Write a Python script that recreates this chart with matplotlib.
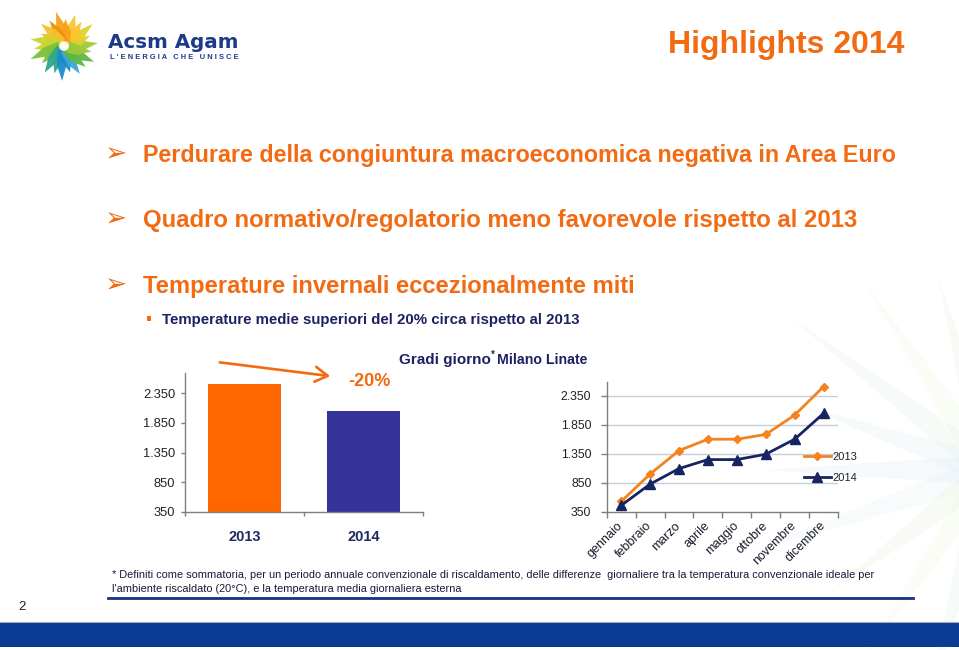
import matplotlib
matplotlib.use('Agg')
import matplotlib.pyplot as plt
import numpy as np
from matplotlib.patches import Polygon, Rectangle, FancyArrowPatch, Circle
from matplotlib.lines import Line2D
from matplotlib import font_manager

# ---------------- data ----------------
bar_years = ['2013', '2014']
bar_values = [2510, 2045]
months = ['gennaio', 'febbraio', 'marzo', 'aprile', 'maggio', 'ottobre', 'novembre', 'dicembre']
gg_2013 = [523, 997, 1403, 1599, 1599, 1681, 2016, 2507]
gg_2014 = [454, 823, 1091, 1247, 1247, 1339, 1599, 2045]
y_ticks = [350, 850, 1350, 1850, 2350]
y_tick_labels = ['350', '850', '1.350', '1.850', '2.350']
series_labels = ['2013', '2014']

title = 'Highlights 2014'
bullets = ['Perdurare della congiuntura macroeconomica negativa in Area Euro',
           'Quadro normativo/regolatorio meno favorevole rispetto al 2013',
           'Temperature invernali eccezionalmente miti']
sub_bullet = 'Temperature medie superiori del 20% circa rispetto al 2013'
footnote1 = ('* Definiti come sommatoria, per un periodo annuale convenzionale di riscaldamento, '
             'delle differenze  giornaliere tra la temperatura convenzionale ideale per')
footnote2 = "l'ambiente riscaldato (20°C), e la temperatura media giornaliera esterna"

ORANGE = '#F26B12'
NAVY = '#1D2162'

W, H = 959, 650
fig = plt.figure(figsize=(W / 100, H / 100), dpi=100)
fig.patch.set_facecolor('white')
bg = fig.add_axes([0, 0, 1, 1])
bg.set_xlim(0, W)
bg.set_ylim(H, 0)
bg.axis('off')
renderer = fig.canvas.get_renderer()


def has_font(name):
    try:
        font_manager.findfont(font_manager.FontProperties(family=name), fallback_to_default=False)
        return True
    except Exception:
        return False


NARROW = 'Liberation Sans Narrow' if has_font('Liberation Sans Narrow') else 'Liberation Sans'


def fit_text(x0, x1, yb, s, color, weight='bold', family='Liberation Sans', size0=12, **kw):
    t = bg.text(x0, yb, s, color=color, fontsize=size0, fontweight=weight,
                family=family, ha='left', va='baseline', **kw)
    w = t.get_window_extent(renderer).width
    t.set_fontsize(size0 * (x1 - x0) / w)
    return t


# ---------------- faint watermark (right) ----------------
wc = np.array([990.0, 470.0])
wm_cols = ['#DDEBC8', '#E6EFD0', '#D7E9D9', '#D3E6EE', '#CFE2F0', '#D8EAF2']
for k, ang in enumerate(np.linspace(105, 255, 9)):
    a = np.deg2rad(ang)
    d = np.array([np.cos(a), -np.sin(a)])
    n = np.array([-d[1], d[0]])
    R = 200 + 25 * ((k * 7) % 3)
    pts = [wc + 15 * n, wc + R * d, wc - 15 * n]
    bg.add_patch(Polygon(pts, closed=True, facecolor=wm_cols[k % len(wm_cols)],
                         edgecolor='none', alpha=0.18, zorder=0))

# ---------------- logo ----------------
cx, cy = 64.0, 46.0
angle_cols = [(0, '#9CCB3B'), (30, '#E2D12A'), (60, '#FBC52C'), (90, '#F7A11B'),
              (120, '#F39200'), (150, '#F2C12E'), (180, '#C9D52E'), (210, '#7DBF3A'),
              (240, '#2FA68A'), (270, '#1B8CC9'), (300, '#3DA8D6'), (330, '#5DB84A'),
              (360, '#9CCB3B')]


def col_for(angle):
    angle = angle % 360
    for (a0, c0), (a1, c1) in zip(angle_cols[:-1], angle_cols[1:]):
        if a0 <= angle < a1:
            return c0 if angle - a0 < (a1 - a0) / 2 else c1
    return angle_cols[0][1]


lens = [34, 28, 36, 30, 33, 27, 35, 29, 32, 26, 34, 30, 36, 28, 33, 29, 35, 27, 32, 30, 34, 28]
for i, L in enumerate(lens):
    ang = i * 360 / len(lens) + 5
    a = np.deg2rad(ang)
    d = np.array([np.cos(a), -np.sin(a)])
    n = np.array([-d[1], d[0]])
    c = np.array([cx, cy])
    pts = [c + 4 * d + 6 * n, c + (L * 0.55) * d + 6 * n, c + L * d,
           c + (L * 0.55) * d - 3.5 * n, c + 4 * d - 6 * n]
    bg.add_patch(Polygon(pts, closed=True, facecolor=col_for(ang), edgecolor='none',
                         alpha=0.95, zorder=2))
bg.add_patch(Circle((cx, cy), 5, facecolor='#FFFBE6', edgecolor='none', alpha=0.9, zorder=3))
fit_text(108, 238, 47.5, 'Acsm Agam', '#1D3A8A', family='DejaVu Sans', zorder=3)
fit_text(110, 237, 58.8, ' '.join("L'ENERGIA CHE UNISCE"), '#1D3A8A', zorder=3)

# ---------------- title and bullets ----------------
fit_text(668, 903, 52.7, title, ORANGE)
for s, yb, x1 in zip(bullets, [161.7, 226.5, 293.3], [893, 856, 633]):
    fit_text(143, x1, yb, s, ORANGE)
    bg.text(115, yb - 7.5, '\u27A2', family='DejaVu Sans', fontsize=19, color=ORANGE,
            ha='center', va='center')
bg.add_patch(Rectangle((146.5, 316.3), 4.5, 4.5, facecolor=ORANGE, edgecolor='none'))
fit_text(162, 577, 324, sub_bullet, NAVY)

# chart headings
fit_text(399, 490, 364, 'Gradi giorno', NAVY)
bg.text(490.5, 358, '*', color=NAVY, fontsize=7, family='Liberation Sans',
        fontweight='bold', ha='left', va='baseline')
fit_text(497, 587, 364, 'Milano Linate', NAVY)
fit_text(348.3, 390, 385.7, '-20%', ORANGE)
bg.add_patch(FancyArrowPatch((217, 362), (333, 376.5),
                             arrowstyle='->,head_length=0.5,head_width=0.3',
                             mutation_scale=18, color=ORANGE, lw=1.9, zorder=4))

# ---------------- footnote / footer ----------------
t1 = fit_text(112, 876, 578, footnote1, '#1A1A3A', weight='normal', family=NARROW)
bg.text(112, 591.5, footnote2, color='#1A1A3A', fontsize=t1.get_fontsize(),
        family=NARROW, ha='left', va='baseline')
bg.add_line(Line2D([108, 913], [597.6, 597.6], color='#1B2E85', lw=2.0))
bg.text(18.3, 610, '2', color='#222222', fontsize=9.5, family='Liberation Sans',
        ha='left', va='baseline')
bg.add_patch(Rectangle((0, 622.8), W, 24, facecolor='#0B3A92', edgecolor='none'))
bg.add_line(Line2D([0, W], [622.3, 622.3], color='#A0AAC2', lw=0.8))

# ---------------- bar chart ----------------
ax1 = fig.add_axes([185 / W, (H - 511.7) / H, (423 - 185) / W, (511.7 - 372.7) / H])
ax1.patch.set_alpha(0)
x = np.arange(len(bar_years))
ax1.bar(x, bar_values, width=0.62, color=['#FF6600', '#333399'], zorder=2)
ax1.set_xlim(-0.5, len(bar_years) - 0.5)
ax1.set_ylim(350, 2700)
for sp in ['top', 'right']:
    ax1.spines[sp].set_visible(False)
for sp in ['left', 'bottom']:
    ax1.spines[sp].set_color('#7F7F7F')
    ax1.spines[sp].set_linewidth(1.0)
ax1.set_yticks(y_ticks)
ax1.set_yticklabels(y_tick_labels, family='Liberation Sans', fontsize=9.3, color='#222222')
ax1.tick_params(axis='y', length=3, width=1, color='#7F7F7F', pad=4)
ax1.set_xticks(x)
ax1.set_xticklabels(bar_years, family='Liberation Sans', fontweight='bold', fontsize=10.5,
                    color='#1F2A5E')
ax1.set_xticks(np.arange(-0.5, len(bar_years)), minor=True)
ax1.tick_params(axis='x', which='major', length=0, pad=13)
ax1.tick_params(axis='x', which='minor', length=3, width=1, color='#7F7F7F')

# ---------------- line chart ----------------
ax2 = fig.add_axes([606.7 / W, (H - 511.5) / H, (838 - 606.7) / W, (511.5 - 381.7) / H])
ax2.patch.set_alpha(0)
xm = np.arange(len(months))
ax2.set_ylim(350, 2593)
ax2.set_xlim(-0.5, len(months) - 0.5)
ax2.set_yticks(y_ticks)
ax2.set_yticklabels(y_tick_labels, family='Liberation Sans', fontsize=8.8, color='#222222')
ax2.tick_params(axis='y', length=4, width=1, color='#7F7F7F', pad=7)
for yv in y_ticks[1:]:
    ax2.axhline(yv, color='#C3CDDA', lw=1.0, zorder=1)
ax2.plot(xm, gg_2013, color='#F5821F', lw=2.0, marker='D', ms=4.5, mfc='#F5821F',
         mec='#F5821F', zorder=3, label=series_labels[0])
ax2.plot(xm, gg_2014, color='#16255F', lw=2.0, marker='^', ms=6.5, mfc='#16255F',
         mec='#16255F', zorder=3, label=series_labels[1])
for sp in ['top', 'right']:
    ax2.spines[sp].set_visible(False)
for sp in ['left', 'bottom']:
    ax2.spines[sp].set_color('#7F7F7F')
    ax2.spines[sp].set_linewidth(1.0)
ax2.set_xticks(xm)
ax2.set_xticklabels(months, rotation=45, ha='right', va='center', rotation_mode='anchor',
                    family='Liberation Sans', fontsize=9, color='#1A1A2A')
ax2.set_xticks(np.arange(-0.5, len(months)), minor=True)
ax2.tick_params(axis='x', which='major', length=0, pad=9)
ax2.tick_params(axis='x', which='minor', length=4, width=1, color='#7F7F7F')
leg = ax2.legend(loc='center left', bbox_to_anchor=(804 / W, (H - 467.5) / H),
                 bbox_transform=fig.transFigure, frameon=False, handlelength=2.4,
                 handletextpad=0.2, labelspacing=1.05, borderpad=0, borderaxespad=0,
                 prop={'family': 'Liberation Sans', 'size': 8})
for txt in leg.get_texts():
    txt.set_color('#222222')

fig.savefig('out.png', dpi=100, facecolor='white')
